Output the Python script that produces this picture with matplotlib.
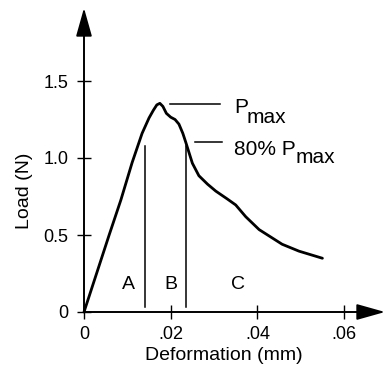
import matplotlib
matplotlib.use("Agg")
import matplotlib.pyplot as plt

plt.rcParams['font.family'] = ['Liberation Sans', 'DejaVu Sans']

# Data
deformation = [0.0, 0.0058, 0.0085, 0.0111, 0.0134, 0.0150, 0.0160, 0.0168, 0.0175, 0.0182,
               0.0190, 0.0200, 0.0210, 0.0219, 0.0228, 0.0235, 0.0250, 0.0265, 0.0285,
               0.0304, 0.0330, 0.0350, 0.0373, 0.0404, 0.0457, 0.0496, 0.0550]
load = [0.0, 0.50, 0.727, 0.97, 1.16, 1.26, 1.31, 1.345, 1.355, 1.335,
        1.29, 1.265, 1.25, 1.22, 1.16, 1.10, 0.966, 0.885, 0.83,
        0.785, 0.735, 0.695, 0.619, 0.535, 0.440, 0.395, 0.349]
region_bounds = [0.0140, 0.0235]
region_top = 1.08
region_labels = ['A', 'B', 'C']
region_label_x = [0.0103, 0.0201, 0.0356]
xticks = [0, 0.02, 0.04, 0.06]
xticklabels = ['0', '.02', '.04', '.06']
yticks = [0, 0.5, 1.0, 1.5]
yticklabels = ['0', '0.5', '1.0', '1.5']
pmax = 1.35
p80 = 0.8 * pmax

W, H = 387, 368
fig = plt.figure(figsize=(W / 100, H / 100), dpi=100)
x0px, y0px = 84, 312
xr_px, yt_px = 365, 30
ax = fig.add_axes([x0px / W, (H - y0px) / H, (xr_px - x0px) / W, (y0px - yt_px) / H])
xmax = (xr_px - x0px) / 4335.0
ymax = (y0px - yt_px) / 154.0
ax.set_xlim(0, xmax)
ax.set_ylim(0, ymax)

for s in ['top', 'right']:
    ax.spines[s].set_visible(False)
for s in ['left', 'bottom']:
    ax.spines[s].set_linewidth(1.4)

ax.plot(deformation, load, color='black', lw=2.0, solid_capstyle='round', clip_on=False)

for xb in region_bounds:
    ax.plot([xb, xb], [0.03, region_top], color='black', lw=1.1)

for lab, lx in zip(region_labels, region_label_x):
    ax.text(lx, 0.18, lab, ha='center', va='center', fontsize=14)

# leader lines
ax.plot([0.0198, 0.0314], [pmax, pmax], color='black', lw=1.1, clip_on=False)
ax.plot([0.0256, 0.0318], [1.104, 1.104], color='black', lw=1.1, clip_on=False)

ax.text(0.0346, 1.292, 'P', ha='left', va='baseline', fontsize=15)
ax.text(0.0376, 1.227, 'max', ha='left', va='baseline', fontsize=15)
ax.text(0.0346, 1.019, '80% P', ha='left', va='baseline', fontsize=15)
ax.text(0.0487, 0.968, 'max', ha='left', va='baseline', fontsize=15)

ax.set_xticks(xticks)
ax.set_xticklabels(xticklabels)
ax.set_yticks(yticks)
ax.set_yticklabels(yticklabels)
ax.tick_params(direction='inout', length=10, width=1.0, labelsize=13, pad=6)
ax.tick_params(axis='x', pad=5)

# arrow heads
ax.annotate('', xy=(0, 1 + 22 / 282), xycoords='axes fraction', xytext=(0, 0.99),
            arrowprops=dict(arrowstyle='-|>,head_length=1.6,head_width=0.45', color='black',
                            lw=1.3, mutation_scale=11, shrinkA=0, shrinkB=0))
ax.annotate('', xy=(1 + 20 / 281, 0), xycoords='axes fraction', xytext=(0.99, 0),
            arrowprops=dict(arrowstyle='-|>,head_length=1.6,head_width=0.45', color='black',
                            lw=1.3, mutation_scale=11, shrinkA=0, shrinkB=0))

fig.text(25 / W, 1 - 191 / H, 'Load (N)', rotation=90, ha='center', va='center', fontsize=14)
fig.text(224 / W, 1 - 355 / H, 'Deformation (mm)', ha='center', va='center', fontsize=14)

fig.savefig('out.png', dpi=100)
